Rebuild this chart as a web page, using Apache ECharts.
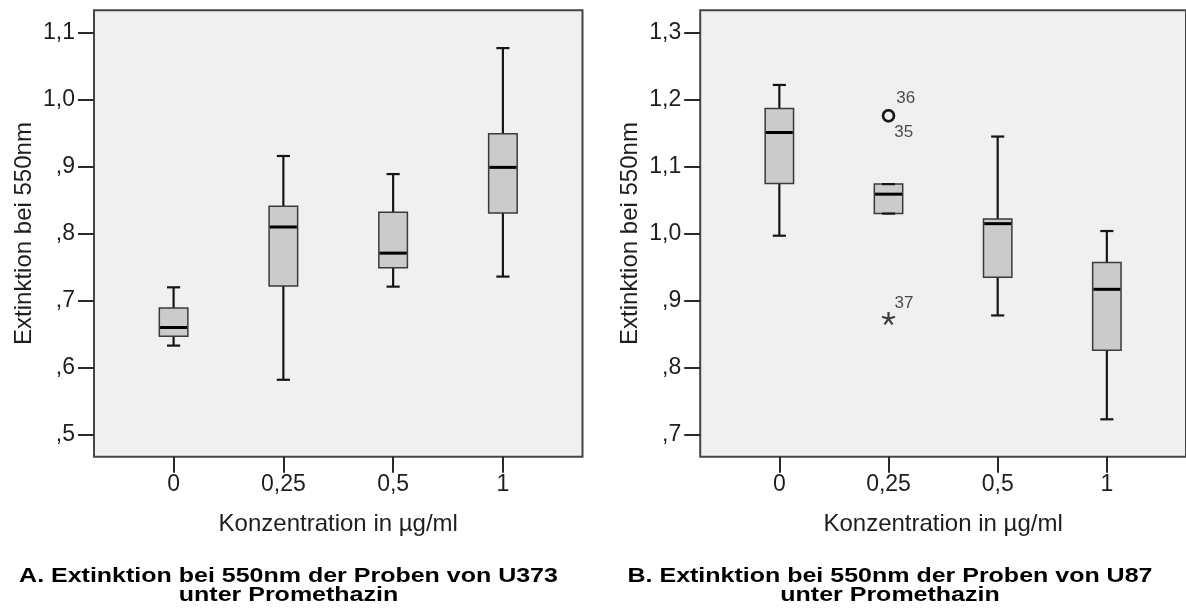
<!DOCTYPE html>
<html>
<head>
<meta charset="utf-8">
<script src="https://cdn.jsdelivr.net/npm/echarts@6/dist/echarts.min.js"></script>
<style>
  html, body { margin: 0; padding: 0; background: #ffffff; }
  #chart { width: 1186px; height: 613px; }
</style>
</head>
<body>
<div id="chart"></div>
<script>
// Concentration groups (µg/ml Promethazin)
const categories = ['0', '0,25', '0,5', '1'];

// Box summaries per group: [lower whisker, Q1, median, Q3, upper whisker]
const u373Summary = [
  [0.633, 0.647, 0.660, 0.689, 0.720],
  [0.582, 0.722, 0.810, 0.841, 0.916],
  [0.721, 0.749, 0.771, 0.832, 0.889],
  [0.736, 0.831, 0.899, 0.949, 1.077]
];
const u87Summary = [
  [0.997, 1.075, 1.151, 1.187, 1.222],
  [1.030, 1.030, 1.059, 1.074, 1.074],
  [0.878, 0.935, 1.015, 1.022, 1.145],
  [0.723, 0.826, 0.917, 0.957, 1.004]
];

// U87 outliers (circle) and extreme values (star) with their case numbers
const u87OutlierCat = [1, 1];
const u87OutlierVal = [1.176, 1.176];
const u87OutlierCase = ['36', '35'];
const u87ExtremeCat = [1];
const u87ExtremeVal = [0.874];
const u87ExtremeCase = ['37'];

// Y tick values and their printed labels
const yTicksA = [0.5, 0.6, 0.7, 0.8, 0.9, 1.0, 1.1];
const yLabelsA = [',5', ',6', ',7', ',8', ',9', '1,0', '1,1'];
const yTicksB = [0.7, 0.8, 0.9, 1.0, 1.1, 1.2, 1.3];
const yLabelsB = [',7', ',8', ',9', '1,0', '1,1', '1,2', '1,3'];

const catIdx = categories.map((c, i) => i);
const FONT = '"Liberation Sans", Arial, sans-serif';
const INK = '#1e1e1e';

function labelFor(ticks, labels) {
  return function (v) {
    for (let i = 0; i < ticks.length; i++) {
      if (Math.abs(ticks[i] - v) < 1e-6) return labels[i];
    }
    return '';
  };
}

function renderBox(params, api) {
  const i = api.value(0);
  const low = api.coord([i, api.value(1)]);
  const q1 = api.coord([i, api.value(2)]);
  const med = api.coord([i, api.value(3)]);
  const q3 = api.coord([i, api.value(4)]);
  const high = api.coord([i, api.value(5)]);
  const boxW = api.size([0.26, 0])[0];
  const capW = api.size([0.12, 0])[0];
  const cx = low[0];
  const whisker = { stroke: '#151515', lineWidth: 2.2 };
  return {
    type: 'group',
    children: [
      { type: 'line', shape: { x1: cx, y1: high[1], x2: cx, y2: q3[1] }, style: whisker },
      { type: 'line', shape: { x1: cx, y1: q1[1], x2: cx, y2: low[1] }, style: whisker },
      {
        type: 'rect',
        shape: { x: cx - boxW / 2, y: q3[1], width: boxW, height: q1[1] - q3[1] },
        style: { fill: '#cbcbcb', stroke: '#3a3a3a', lineWidth: 1.5 }
      },
      { type: 'line', shape: { x1: cx - capW / 2, y1: high[1], x2: cx + capW / 2, y2: high[1] }, style: whisker },
      { type: 'line', shape: { x1: cx - capW / 2, y1: low[1], x2: cx + capW / 2, y2: low[1] }, style: whisker },
      {
        type: 'line',
        shape: { x1: cx - boxW / 2 + 0.75, y1: med[1], x2: cx + boxW / 2 - 0.75, y2: med[1] },
        style: { stroke: '#000000', lineWidth: 3 }
      }
    ]
  };
}

function xAxisFor(gridIndex) {
  return {
    type: 'value',
    gridIndex: gridIndex,
    min: -0.725,
    max: 3.725,
    name: 'Konzentration in µg/ml',
    nameLocation: 'middle',
    nameGap: 56,
    nameTextStyle: { fontFamily: FONT, fontSize: 24, color: INK },
    axisLine: { show: false, onZero: false },
    splitLine: { show: false },
    axisTick: {
      show: true, length: 16, customValues: catIdx,
      lineStyle: { color: '#2a2a2a', width: 2 }
    },
    axisLabel: {
      customValues: catIdx, margin: 16,
      fontFamily: FONT, fontSize: 23, color: INK,
      formatter: v => categories[Math.round(v)]
    }
  };
}

function yAxisFor(gridIndex, range, ticks, labels) {
  return {
    type: 'value',
    gridIndex: gridIndex,
    min: range[0],
    max: range[1],
    name: 'Extinktion bei 550nm',
    nameLocation: 'middle',
    nameGap: 58,
    nameTextStyle: { fontFamily: FONT, fontSize: 24, color: INK },
    axisLine: { show: false, onZero: false },
    splitLine: { show: false },
    axisTick: {
      show: true, length: 16, customValues: ticks,
      lineStyle: { color: '#2a2a2a', width: 2 }
    },
    axisLabel: {
      customValues: ticks, margin: 19,
      fontFamily: FONT, fontSize: 23, color: INK,
      formatter: labelFor(ticks, labels)
    }
  };
}

const gridStyle = {
  show: true,
  backgroundColor: '#f0f0f0',
  borderColor: '#454545',
  borderWidth: 2
};

// Five-pointed asterisk used for extreme values
const asteriskPath = 'path://M0,-6L0,0M5.7,-1.85L0,0M3.53,4.85L0,0M-3.53,4.85L0,0M-5.7,-1.85L0,0';

function caseLabel(text, offset) {
  return {
    show: true, position: 'right', distance: 0, offset: offset,
    formatter: text, fontFamily: FONT, fontSize: 17, color: INK
  };
}

const outlierOffsets = [[1, -17], [-1, 17]];

function titleText(x, y, text) {
  return {
    type: 'text', x: x, y: y, scaleX: 1.19, scaleY: 1,
    style: {
      text: text, align: 'center', verticalAlign: 'middle',
      fontFamily: FONT, fontWeight: 'bold', fontSize: 21, fill: '#000000'
    }
  };
}

const chart = echarts.init(document.getElementById('chart'), null, { renderer: 'canvas' });
chart.setOption({
  backgroundColor: '#ffffff',
  animation: false,
  grid: [
    Object.assign({ left: 94, top: 10.3, width: 488.5, height: 446.4 }, gridStyle),
    Object.assign({ left: 700.2, top: 10.3, width: 487, height: 446.4 }, gridStyle)
  ],
  xAxis: [xAxisFor(0), xAxisFor(1)],
  yAxis: [
    yAxisFor(0, [0.4672, 1.1334], yTicksA, yLabelsA),
    yAxisFor(1, [0.6672, 1.3334], yTicksB, yLabelsB)
  ],
  series: [
    {
      type: 'custom', name: 'U373', xAxisIndex: 0, yAxisIndex: 0,
      renderItem: renderBox,
      encode: { x: 0, y: [1, 2, 3, 4, 5] },
      data: u373Summary.map((s, i) => [i].concat(s))
    },
    {
      type: 'custom', name: 'U87', xAxisIndex: 1, yAxisIndex: 1,
      renderItem: renderBox,
      encode: { x: 0, y: [1, 2, 3, 4, 5] },
      data: u87Summary.map((s, i) => [i].concat(s))
    },
    {
      type: 'scatter', name: 'U87 Ausreißer', xAxisIndex: 1, yAxisIndex: 1,
      symbol: 'circle', symbolSize: 11,
      itemStyle: { color: 'rgba(0,0,0,0)', borderColor: '#111111', borderWidth: 2.5 },
      data: u87OutlierCat.map((c, i) => ({
        value: [c, u87OutlierVal[i]],
        label: caseLabel(u87OutlierCase[i], outlierOffsets[i])
      }))
    },
    {
      type: 'scatter', name: 'U87 Extremwerte', xAxisIndex: 1, yAxisIndex: 1,
      symbol: asteriskPath, symbolSize: 13, symbolKeepAspect: true,
      itemStyle: { color: 'rgba(0,0,0,0)', borderColor: '#111111', borderWidth: 2.2 },
      data: u87ExtremeCat.map((c, i) => ({
        value: [c, u87ExtremeVal[i]],
        label: caseLabel(u87ExtremeCase[i], [-1.5, -15])
      }))
    }
  ],
  graphic: [
    titleText(288.5, 576, 'A. Extinktion bei 550nm der Proben von U373'),
    titleText(288.5, 595, 'unter Promethazin'),
    titleText(890, 576, 'B. Extinktion bei 550nm der Proben von U87'),
    titleText(890, 595, 'unter Promethazin')
  ]
});
</script>
</body>
</html>
